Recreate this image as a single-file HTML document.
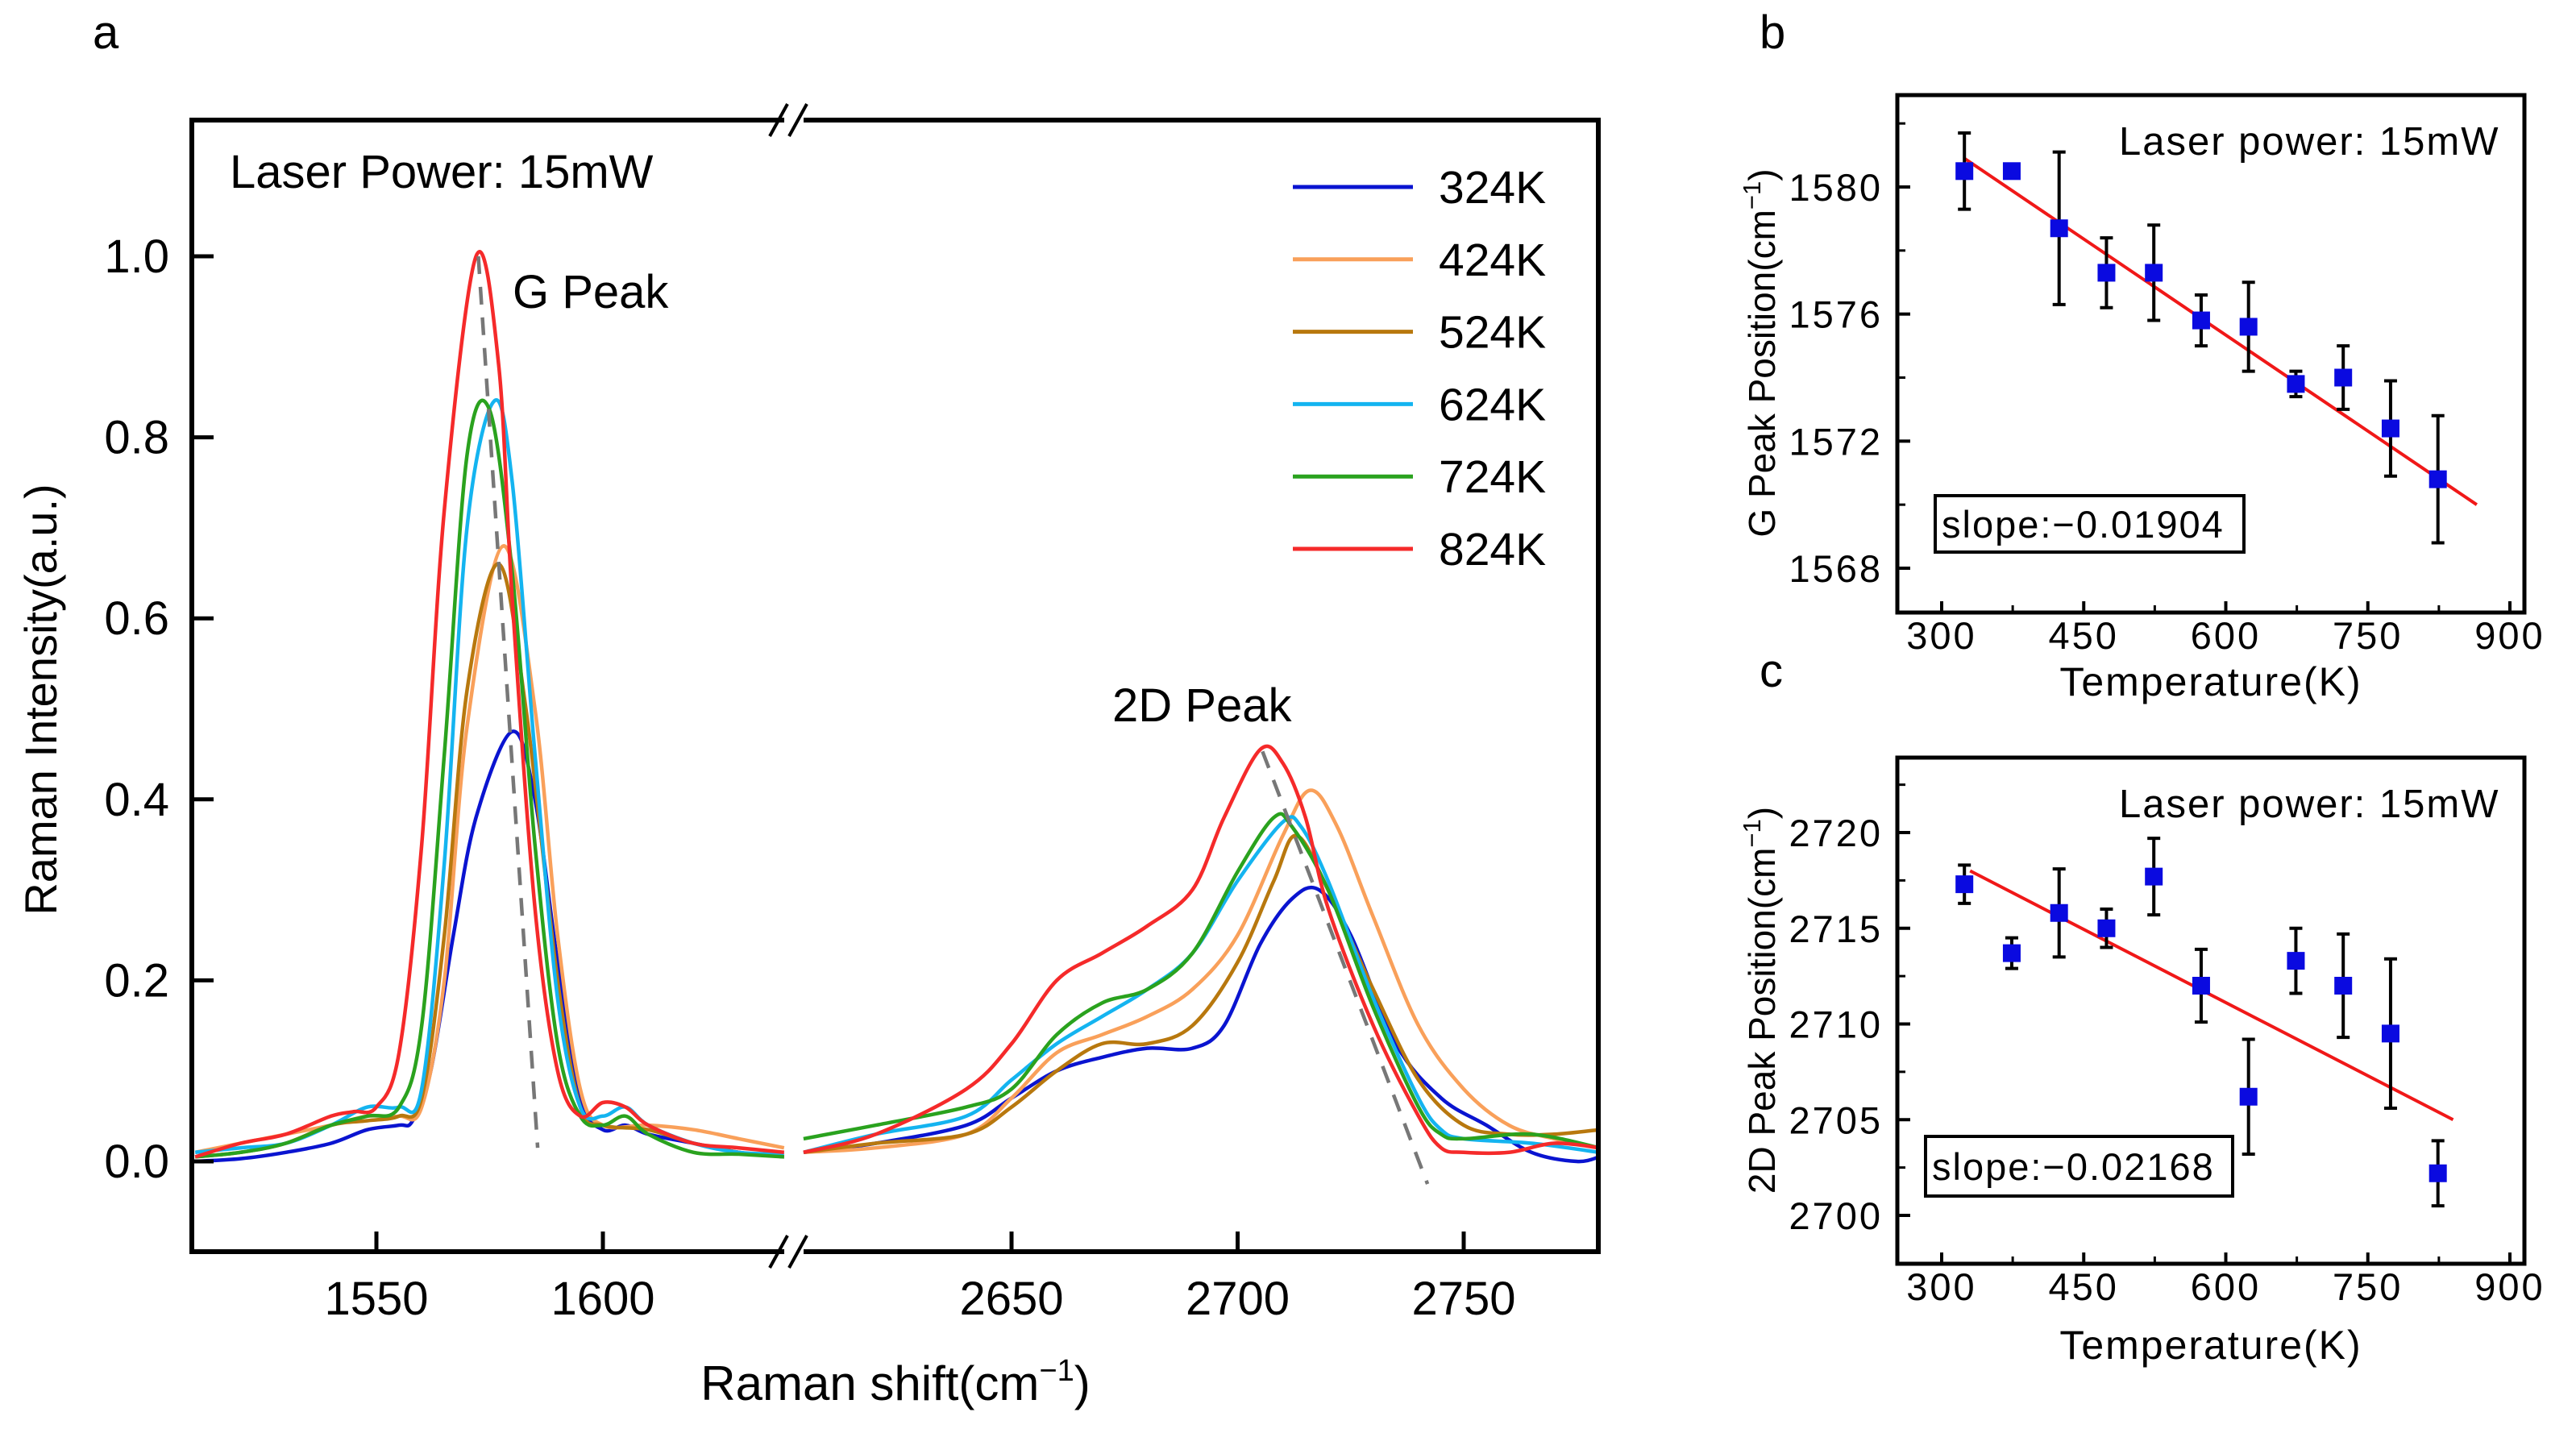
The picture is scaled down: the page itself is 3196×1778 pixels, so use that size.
<!DOCTYPE html>
<html><head><meta charset="utf-8"><style>
html,body{margin:0;padding:0;background:#fff}
svg{display:block}
text{font-family:"Liberation Sans",sans-serif;fill:#000}
</style></head><body>
<svg id="fig" width="3196" height="1778" viewBox="0 0 3196 1778" xmlns="http://www.w3.org/2000/svg"></svg>
<script>
// ---------- Panel a data ----------
const seriesNames = ["324K","424K","524K","624K","724K","824K"];
const seriesColors = ["#0a14d0","#f9a05a","#b8780e","#14b4f0","#2aa21e","#f52a2a"];
const gX_324 = [1510,1520,1530,1540,1548,1555,1558,1562,1567,1572,1580,1585,1590,1595,1600,1605,1610,1620,1630,1640];
const gY_324 = [0.0,0.003,0.01,0.02,0.035,0.04,0.045,0.1,0.25,0.38,0.475,0.4,0.22,0.07,0.035,0.04,0.03,0.02,0.01,0.005];
const gX_424 = [1510,1520,1530,1540,1548,1555,1560,1565,1570,1578,1585,1590,1595,1600,1610,1620,1630,1640];
const gY_424 = [0.01,0.02,0.03,0.04,0.05,0.05,0.06,0.2,0.48,0.68,0.5,0.25,0.08,0.04,0.04,0.035,0.025,0.015];
const gX_524 = [1510,1520,1530,1540,1548,1555,1560,1565,1570,1577,1583,1590,1595,1600,1610,1620,1630,1640];
const gY_524 = [0.005,0.01,0.02,0.04,0.045,0.05,0.07,0.25,0.52,0.66,0.5,0.2,0.06,0.04,0.035,0.02,0.01,0.005];
const gX_624 = [1510,1520,1530,1540,1548,1555,1560,1565,1570,1576,1580,1585,1590,1595,1600,1605,1610,1620,1630,1640];
const gY_624 = [0.01,0.015,0.02,0.04,0.06,0.06,0.08,0.33,0.7,0.84,0.75,0.45,0.18,0.06,0.05,0.06,0.04,0.02,0.01,0.008];
const gX_724 = [1510,1520,1530,1540,1548,1555,1560,1565,1570,1575,1580,1585,1590,1595,1600,1605,1610,1620,1630,1640];
const gY_724 = [0.005,0.01,0.02,0.04,0.05,0.06,0.15,0.45,0.78,0.83,0.65,0.35,0.13,0.05,0.04,0.05,0.03,0.01,0.008,0.005];
const gX_824 = [1510,1520,1530,1540,1545,1550,1555,1560,1565,1572,1577,1580,1585,1590,1595,1600,1605,1610,1620,1630,1640];
const gY_824 = [0.005,0.02,0.03,0.05,0.055,0.06,0.12,0.35,0.72,1.0,0.88,0.62,0.28,0.1,0.05,0.065,0.06,0.04,0.02,0.015,0.01];
const dX_324 = [2604,2620,2640,2650,2660,2670,2680,2690,2697,2705,2712,2718,2725,2735,2745,2755,2765,2775,2780];
const dY_324 = [0.01,0.02,0.04,0.07,0.1,0.115,0.125,0.125,0.15,0.24,0.29,0.3,0.25,0.13,0.07,0.04,0.01,0.0,0.005];
const dX_424 = [2604,2620,2640,2650,2660,2670,2680,2690,2700,2710,2716,2722,2730,2740,2750,2760,2770,2780];
const dY_424 = [0.01,0.015,0.03,0.07,0.12,0.14,0.16,0.19,0.25,0.36,0.41,0.37,0.27,0.15,0.08,0.04,0.025,0.015];
const dX_524 = [2604,2620,2640,2650,2660,2670,2680,2690,2700,2708,2713,2720,2730,2740,2750,2760,2770,2780];
const dY_524 = [0.01,0.02,0.03,0.06,0.1,0.13,0.13,0.15,0.22,0.31,0.36,0.3,0.19,0.09,0.04,0.03,0.03,0.035];
const dX_624 = [2604,2620,2640,2650,2660,2670,2680,2690,2700,2710,2714,2720,2730,2740,2745,2750,2765,2780];
const dY_624 = [0.01,0.03,0.05,0.09,0.13,0.16,0.19,0.23,0.31,0.375,0.37,0.31,0.18,0.07,0.035,0.025,0.02,0.01];
const dX_724 = [2604,2620,2640,2650,2660,2670,2680,2690,2700,2708,2712,2720,2730,2740,2745,2750,2765,2780];
const dY_724 = [0.025,0.04,0.06,0.08,0.14,0.175,0.19,0.23,0.32,0.38,0.37,0.3,0.17,0.06,0.03,0.025,0.03,0.015];
const dX_824 = [2604,2620,2640,2650,2660,2670,2680,2690,2697,2705,2710,2715,2720,2730,2740,2745,2750,2760,2770,2780];
const dY_824 = [0.01,0.03,0.08,0.13,0.2,0.23,0.26,0.3,0.38,0.455,0.44,0.38,0.28,0.15,0.05,0.015,0.01,0.01,0.02,0.015];
const gShiftLine = [[1572.5,1.0],[1585.6,0.015]];
const dShiftLine = [[2705.5,0.453],[2742,-0.025]];
const aYTicks = [0.0,0.2,0.4,0.6,0.8,1.0];
const aYTickLabels = ["0.0","0.2","0.4","0.6","0.8","1.0"];
const aXTicksL = [1550,1600];
const aXTicksR = [2650,2700,2750];

// ---------- Panel b/c data ----------
const temps = [324,374,424,474,524,574,624,674,724,774,824];
const gPos = [1580.5,1580.5,1578.7,1577.3,1577.3,1575.8,1575.6,1573.8,1574.0,1572.4,1570.8];
const gErr = [1.2,0.2,2.4,1.1,1.5,0.8,1.4,0.4,1.0,1.5,2.0];
const gFit = [[324,1580.9],[865,1570.0]];
const dPos = [2717.3,2713.7,2715.8,2715.0,2717.7,2712.0,2706.2,2713.3,2712.0,2709.5,2702.2];
const dErr = [1.0,0.8,2.3,1.0,2.0,1.9,3.0,1.7,2.7,3.9,1.7];
const dFit = [[330,2718.0],[840,2705.0]];
const tTicks = [300,450,600,750,900];
const bYTicks = [1568,1572,1576,1580];
const cYTicks = [2700,2705,2710,2715,2720];

const NS="http://www.w3.org/2000/svg";
const svg=document.getElementById('fig');
function mk(tag,attrs,parent){const e=document.createElementNS(NS,tag);for(const k in attrs)e.setAttribute(k,attrs[k]);(parent||svg).appendChild(e);return e;}
function txt(s,attrs,parent){const e=mk('text',attrs,parent);e.textContent=s;return e;}

// ---------- Panel a axes ----------
const A={L:238,T:149,R:1983,B:1553,brk:985};
const yA=v=>1441-(v)*1123;
const xL=v=>467+(v-1550)*5.62;
const xR=v=>1255+(v-2650)*5.61;
const gA=mk('g',{});


const clipL=mk('clipPath',{id:'clipL'},gA);mk('rect',{x:A.L,y:A.T,width:975-A.L,height:A.B-A.T},clipL);
const clipR=mk('clipPath',{id:'clipR'},gA);mk('rect',{x:995,y:A.T,width:A.R-995,height:A.B-A.T},clipR);

function smoothPath(pts){
  let d=`M${pts[0][0].toFixed(1)},${pts[0][1].toFixed(1)}`;
  for(let i=0;i<pts.length-1;i++){
    const p0=pts[i-1]||pts[i],p1=pts[i],p2=pts[i+1],p3=pts[i+2]||p2;
    const c1=[p1[0]+(p2[0]-p0[0])/6,p1[1]+(p2[1]-p0[1])/6];
    const c2=[p2[0]-(p3[0]-p1[0])/6,p2[1]-(p3[1]-p1[1])/6];
    d+=`C${c1[0].toFixed(1)},${c1[1].toFixed(1)} ${c2[0].toFixed(1)},${c2[1].toFixed(1)} ${p2[0].toFixed(1)},${p2[1].toFixed(1)}`;
  }
  return d;
}
const gXs=[gX_324,gX_424,gX_524,gX_624,gX_724,gX_824], gYs=[gY_324,gY_424,gY_524,gY_624,gY_724,gY_824];
const dXs=[dX_324,dX_424,dX_524,dX_624,dX_724,dX_824], dYs=[dY_324,dY_424,dY_524,dY_624,dY_724,dY_824];
for(let s=0;s<6;s++){
  const p1=mk('path',{d:smoothPath(gXs[s].map((x,i)=>[xL(x),yA(gYs[s][i])])),fill:'none',stroke:seriesColors[s],'stroke-width':4.5,'clip-path':'url(#clipL)'},gA);
  
  
  const p2=mk('path',{d:smoothPath(dXs[s].map((x,i)=>[xR(x),yA(dYs[s][i])])),fill:'none',stroke:seriesColors[s],'stroke-width':4.5,'clip-path':'url(#clipR)'},gA);
  
  
}
const dl1=mk('line',{x1:xL(gShiftLine[0][0]),y1:yA(gShiftLine[0][1]),x2:xL(gShiftLine[1][0]),y2:yA(gShiftLine[1][1]),stroke:'#777','stroke-width':4.5,'stroke-dasharray':'22,16'},gA);


const dl2=mk('line',{x1:xR(dShiftLine[0][0]),y1:yA(dShiftLine[0][1]),x2:xR(dShiftLine[1][0]),y2:yA(dShiftLine[1][1]),stroke:'#777','stroke-width':4.5,'stroke-dasharray':'22,16'},gA);



const fr=mk('path',{d:`M${A.brk-12},${A.T}H${A.L}V${A.B}H${A.brk-12} M${A.brk+12},${A.T}H${A.R}V${A.B}H${A.brk+12}`,fill:'none',stroke:'#000','stroke-width':6},gA);


[A.T,A.B].forEach(y=>{
  const b=mk('path',{d:`M${A.brk-30},${y+20}L${A.brk-8},${y-20} M${A.brk-6},${y+20}L${A.brk+16},${y-20}`,stroke:'#000','stroke-width':4,fill:'none'},gA);
  
  
});
aYTicks.forEach((v,i)=>{
  mk('line',{x1:A.L,x2:A.L+27,y1:yA(v),y2:yA(v),stroke:'#000','stroke-width':5},gA);
  const t=txt(aYTickLabels[i],{x:210,y:yA(v)+20,'font-size':58,'text-anchor':'end'},gA);
  
  
});
aXTicksL.forEach(v=>{
  mk('line',{x1:xL(v),x2:xL(v),y1:A.B,y2:A.B-25,stroke:'#000','stroke-width':5},gA);
  const t=txt(String(v),{x:xL(v),y:1631,'font-size':58,'text-anchor':'middle'},gA);
  
  
});
aXTicksR.forEach(v=>{
  mk('line',{x1:xR(v),x2:xR(v),y1:A.B,y2:A.B-25,stroke:'#000','stroke-width':5},gA);
  const t=txt(String(v),{x:xR(v),y:1631,'font-size':58,'text-anchor':'middle'},gA);
  
  
});
seriesNames.forEach((n,i)=>{
  const y=232+i*89.8;
  const l=mk('line',{x1:1604,x2:1753,y1:y,y2:y,stroke:seriesColors[i],'stroke-width':5},gA);
  
  
  const t=txt(n,{x:1785,y:y+20,'font-size':57},gA);
  
  
});
let t;
t=txt('Laser Power: 15mW',{x:285,y:233,'font-size':58},gA);
t=txt('G Peak',{x:636,y:382,'font-size':58},gA);
t=txt('2D Peak',{x:1380,y:895,'font-size':58},gA);
t=txt('a',{x:115,y:60,'font-size':58},gA);
t=txt('Raman Intensity(a.u.)',{x:0,y:0,'font-size':56,'text-anchor':'middle',transform:'translate(70,868) rotate(-90)'},gA);
t=txt('',{x:1111,y:1737,'font-size':60,'text-anchor':'middle'},gA);
t.innerHTML='Raman shift(cm<tspan dy="-24" font-size="38">−1</tspan><tspan dy="24">)</tspan>';


// ---------- Panels b & c ----------
function scatterPanel(o){
  const g=mk('g',{});
  
  
  const X=v=>2409+(v-300)*(3114-2409)/600;
  const Y=v=>o.y0px+(v-o.y0)*o.k;
  mk('rect',{x:2354,y:o.T,width:3132-2354,height:o.B-o.T,fill:'none',stroke:'#000','stroke-width':5},g);
  o.yt.forEach((v,i)=>{
    mk('line',{x1:2354,x2:2370,y1:Y(v),y2:Y(v),stroke:'#000','stroke-width':4},g);
    if(i<o.yt.length-1){const m=(v+o.yt[i+1])/2;mk('line',{x1:2354,x2:2364,y1:Y(m),y2:Y(m),stroke:'#000','stroke-width':3},g);}
    const tt=txt(String(v),{x:2336,y:Y(v)+17,'font-size':47,'text-anchor':'end','letter-spacing':3},g);
    
    
  });
  const mTop=o.yt[o.yt.length-1]+(o.yt[1]-o.yt[0])/2;
  if(Y(mTop)>o.T) mk('line',{x1:2354,x2:2364,y1:Y(mTop),y2:Y(mTop),stroke:'#000','stroke-width':3},g);
  tTicks.forEach((v,i)=>{
    mk('line',{x1:X(v),x2:X(v),y1:o.B,y2:o.B-14,stroke:'#000','stroke-width':4},g);
    if(i<tTicks.length-1){const m=(v+tTicks[i+1])/2;mk('line',{x1:X(m),x2:X(m),y1:o.B,y2:o.B-9,stroke:'#000','stroke-width':3},g);}
    const tt=txt(String(v),{x:X(v),y:o.B+45,'font-size':47,'text-anchor':'middle','letter-spacing':3},g);
    
    
  });
  const fl=mk('line',{x1:X(o.fit[0][0]),y1:Y(o.fit[0][1]),x2:X(o.fit[1][0]),y2:Y(o.fit[1][1]),stroke:'#f01818','stroke-width':4},g);
  
  
  temps.forEach((T,i)=>{
    const x=X(T);
    const eb=mk('path',{d:`M${x},${Y(o.pos[i]-o.err[i])}V${Y(o.pos[i]+o.err[i])} M${x-8},${Y(o.pos[i]-o.err[i])}h16 M${x-8},${Y(o.pos[i]+o.err[i])}h16`,stroke:'#000','stroke-width':4,fill:'none'},g);
    
    
    const m=mk('rect',{x:x-11,y:Y(o.pos[i])-11,width:22,height:22,fill:'#0a0ae0'},g);
    
    
  });
  let tt=txt('Laser power:  15mW',{x:2629,y:o.T+74,'font-size':49,'letter-spacing':2},g);
  
  mk('rect',{x:o.box[0],y:o.box[1],width:o.box[2],height:o.box[3],fill:'none',stroke:'#000','stroke-width':4},g);
  tt=txt(o.slope,{x:o.box[0]+8,y:o.box[1]+o.box[3]/2+17,'font-size':47,'letter-spacing':2},g);
  
  tt=txt('Temperature(K)',{x:2743,y:o.B+o.titleOff,'font-size':50,'text-anchor':'middle','letter-spacing':2},g);
  
  tt=txt('',{x:0,y:0,'font-size':46,'text-anchor':'middle',transform:`translate(2202,${o.ty}) rotate(-90)`},g);
  tt.innerHTML=o.ytitle+'(cm<tspan dy="-18" font-size="31">−1</tspan><tspan dy="18">)</tspan>';
  
  tt=txt(o.lab,{x:2183,y:o.labY,'font-size':58},g);
  
}
scatterPanel({name:'panel-b',T:118,B:760,titleOff:103,y0:1580,y0px:232,k:-(705-232)/12,yt:bYTicks,pos:gPos,err:gErr,fit:gFit,box:[2401,615,383,70],slope:'slope:−0.01904',ytitle:'G Peak Position',ty:438,lab:'b',labY:60});
scatterPanel({name:'panel-c',T:940,B:1568,titleOff:118,y0:2700,y0px:1508,k:-(1508-1033)/20,yt:cYTicks,pos:dPos,err:dErr,fit:dFit,box:[2389,1410,381,74],slope:'slope:−0.02168',ytitle:'2D Peak Position',ty:1241,lab:'c',labY:852});
</script>
</body></html>
